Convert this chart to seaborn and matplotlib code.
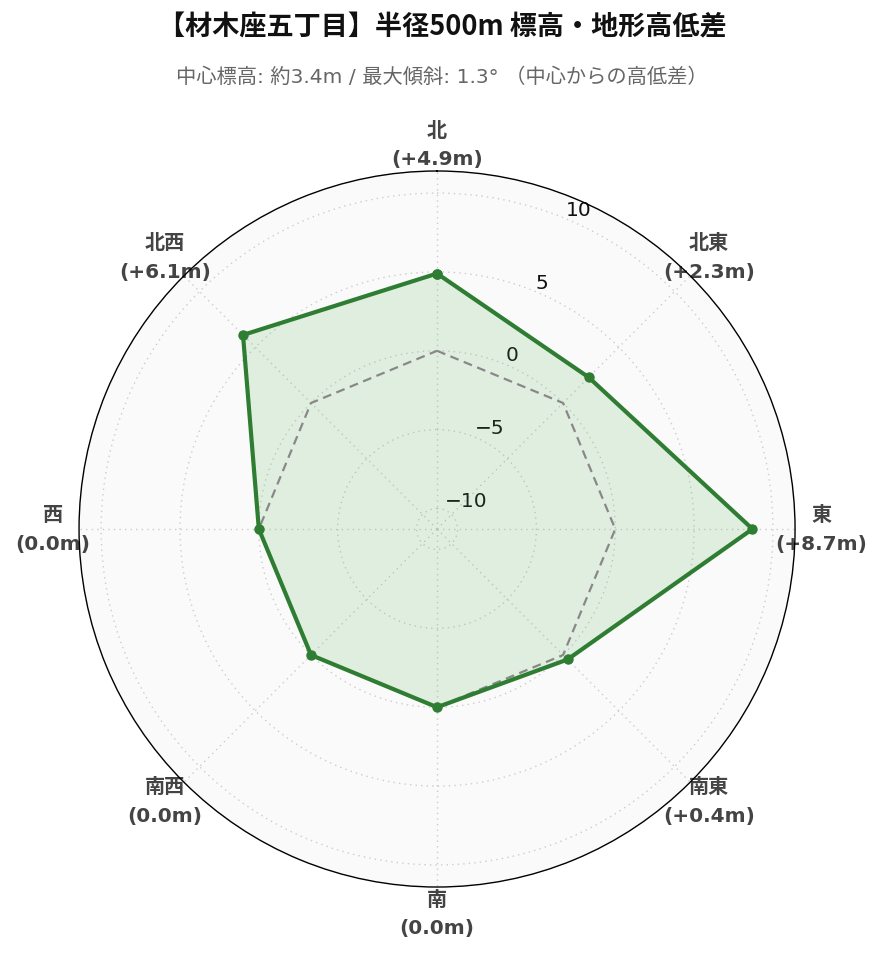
import numpy as np
import pandas as pd
import matplotlib
matplotlib.use("Agg")
import matplotlib.pyplot as plt
import seaborn as sns

# ---- data ----
directions = ["北", "北東", "東", "南東", "南", "南西", "西", "北西"]
diffs = [4.9, 2.3, 8.7, 0.4, 0.0, 0.0, 0.0, 6.1]
label_values = ["(+4.9m)", "(+2.3m)", "(+8.7m)", "(+0.4m)", "(0.0m)", "(0.0m)", "(0.0m)", "(+6.1m)"]
radial_ticks = [-10, -5, 0, 5, 10]
radial_ticklabels = ["−10", "−5", "0", "5", "10"]
title = "【材木座五丁目】半径500m 標高・地形高低差"
subtitle = "中心標高: 約3.4m / 最大傾斜: 1.3° （中心からの高低差）"

sns.set_theme(style="white")
plt.rcParams['font.family'] = ['DejaVu Sans', 'Noto Sans CJK JP']
plt.rcParams['axes.unicode_minus'] = True

n = len(directions)
theta = np.deg2rad(np.arange(n) * 360.0 / n)
theta_c = np.append(theta, theta[0] + 2 * np.pi)
df = pd.DataFrame({"theta": theta_c, "value": diffs + diffs[:1], "zero": [0.0] * (n + 1)})

fig = plt.figure(figsize=(8.84, 9.62), dpi=100)
ax = fig.add_axes([0.0894, 0.0769, 0.81, 0.7443], projection="polar")
ax.set_facecolor("#fafafa")
ax.set_theta_zero_location("N")
ax.set_theta_direction(-1)
ax.set_ylim(-11.3, 11.4)

ax.fill(df["theta"], df["value"], color="#4caf50", alpha=0.15, zorder=2, linewidth=0)
sns.lineplot(data=df, x="theta", y="zero", ax=ax, sort=False, color="#888888",
             linewidth=1.6, linestyle=(0, (4, 2.5)), zorder=3)
sns.lineplot(data=df, x="theta", y="value", ax=ax, sort=False, color="#2e7d32",
             linewidth=3.0, marker="o", markersize=7.5, markeredgewidth=0, zorder=4)

ax.set_xlabel("")
ax.set_ylabel("")
ax.set_xticks(theta)
ax.set_xticklabels([f"{d}\n{l}" for d, l in zip(directions, label_values)],
                   fontsize=14.5, fontweight="bold", color="#444444", linespacing=1.65,
                   family=['DejaVu Sans', 'Noto Sans CJK JP'])
ax.tick_params(axis="x", pad=6)
ax.set_yticks(radial_ticks)
ax.set_yticklabels(radial_ticklabels, fontsize=14.5, color="#111111")
ax.set_rlabel_position(22.5)
ax.grid(True, color="#cccccc", linestyle=(0, (1, 3)), linewidth=1.0)
ax.spines["polar"].set_color("black")
ax.spines["polar"].set_linewidth(1.0)

fig.text(0.5, 0.971, title, ha="center", va="center", fontsize=19.5, fontweight="bold",
         color="#111111", family=['Noto Sans CJK JP', 'DejaVu Sans'])
fig.text(0.5, 0.92, subtitle, ha="center", va="center", fontsize=14.6,
         color="#666666", family=['DejaVu Sans', 'Noto Sans CJK JP'])

fig.savefig("out.png", dpi=100, facecolor="white")
